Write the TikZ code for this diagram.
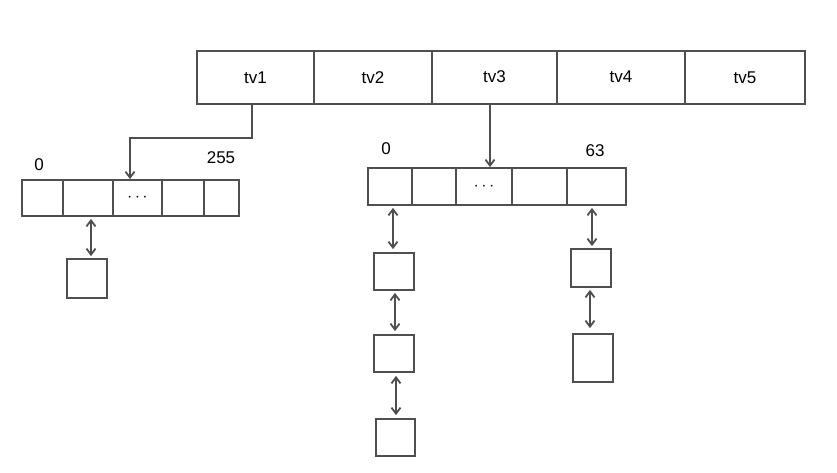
\documentclass[tikz,border=0pt]{standalone}
\usepackage{fontspec}
\setmainfont{Liberation Sans}
\usetikzlibrary{arrows.meta}
\definecolor{linegray}{HTML}{4F4F4F}

\begin{document}
\begin{tikzpicture}[x=1pt, y=-1pt,
  >={Straight Barb[length=6pt,width=9pt]},
  cell/.style={draw=linegray, line width=1.8pt, inner sep=0pt,
               font=\fontsize{17}{20}\selectfont},
  chain/.style={draw=linegray, line width=1.8pt, inner sep=0pt},
  idx/.style={font=\fontsize{17}{20}\selectfont},
  link/.style={draw=linegray, line width=1.8pt}]
\useasboundingbox (0,0) rectangle (837,473);
% top table
\foreach \n/\a/\b/\d in {tv1/197/314/0, tv2/314/432/-3, tv3/432/557/2, tv4/557/685/2, tv5/685/805/-3}
  \node[cell, minimum width={\b-\a}, minimum height=53] (\n) at ({(\a+\b)/2},77.5)
    {\raisebox{\d pt}{\n}};
% left slot array
\foreach \n/\a/\b/\t in {l0/22/63/, l1/63/113/, l2/113/162/{$\cdots$}, l3/162/204/, l4/204/239/}
  \node[cell, minimum width={\b-\a}, minimum height=36, font=\fontsize{17}{20}\selectfont] (\n) at ({(\a+\b)/2},198) {\t};
% middle slot array
\foreach \n/\a/\b/\t in {m0/368/412/, m1/412/456/, m2/456/512/{$\cdots$}, m3/512/567/, m4/567/626/}
  \node[cell, minimum width={\b-\a}, minimum height=37, font=\fontsize{17}{20}\selectfont] (\n) at ({(\a+\b)/2},186.5) {\t};
\node[idx] (i0)   at (39,165)  {0};
\node[idx] (i255) at (221,158) {255};
\node[idx] (j0)   at (386,149) {0};
\node[idx] (j63)  at (595,151) {63};
% lists
\node[chain, minimum width=40, minimum height=39] (lb)  at (87,278.5)  {};
\node[chain, minimum width=40, minimum height=37] (c1a) at (394,271.5) {};
\node[chain, minimum width=40, minimum height=37] (c1b) at (394,353.5) {};
\node[chain, minimum width=39, minimum height=37] (c1c) at (395.5,437.5) {};
\node[chain, minimum width=40, minimum height=38] (c2a) at (591,268)   {};
\node[chain, minimum width=40, minimum height=48] (c2b) at (593,358)   {};
% pointers
\draw[link, ->] ([xshift=-3.5pt]tv1.south) -- ++(0,33) -| ([xshift=-7.5pt]l2.north);
\draw[link, ->] ([xshift=-4.5pt]tv3.south) -- ([xshift=6pt]m2.north);
\draw[link, <->, shorten <=2pt, shorten >=2pt] ([xshift=3pt]l1.south) -- ([xshift=4pt]lb.north);
\draw[link, <->, shorten <=2pt, shorten >=3pt] ([xshift=3pt]m0.south) -- ([xshift=-1pt]c1a.north);
\draw[link, <->, shorten <=2pt, shorten >=3pt] ([xshift=1pt]c1a.south) -- ([xshift=1pt]c1b.north);
\draw[link, <->, shorten <=3pt, shorten >=3pt] ([xshift=2pt]c1b.south) -- ([xshift=0.5pt]c1c.north);
\draw[link, <->, shorten <=2pt, shorten >=2pt] ([xshift=-4.5pt]m4.south) -- ([xshift=1pt]c2a.north);
\draw[link, <->, shorten <=2pt, shorten >=5pt] ([xshift=-1pt]c2a.south) -- ([xshift=-3pt]c2b.north);
\end{tikzpicture}
\end{document}
